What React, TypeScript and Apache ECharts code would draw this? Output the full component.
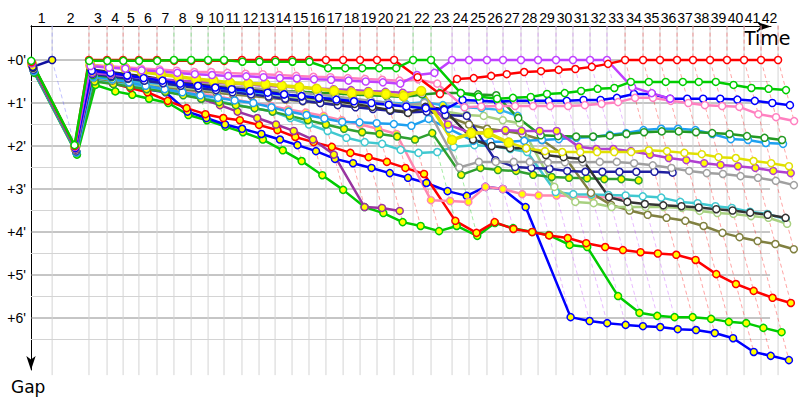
import React, { useEffect, useRef } from "react";
import * as echarts from "echarts";

// Race time (minutes) at which the leader completed each lap (index = lap, 0 = start)
const leaderTimes = [
  0, 1.87, 5.13, 6.73, 8.15, 9.55, 11.15, 12.65, 14.17, 15.67, 17.08, 18.67, 20.18, 21.6,
  23.1, 24.6, 26.1, 27.62, 29.12, 30.62, 32.13, 33.81, 35.4, 37.26, 38.76, 40.35, 41.77,
  43.36, 44.87, 46.46, 47.96, 49.47, 50.97, 52.57, 54.16, 55.66, 57.17, 58.58, 60.09,
  61.59, 63.1, 64.6, 66.11,
];

// Leader of each lap 1..42
const lapLeaders = [
  "navy0",
  "red", "red", "red", "red", "red",
  "green", "green", "green", "green",
  "red", "red", "red", "red", "red", "red", "red", "red", "red", "red",
  "green", "green",
  "violet", "violet", "violet", "violet", "violet", "violet", "violet", "violet", "violet", "violet",
  "red", "red", "red", "red", "red", "red", "red", "red", "red", "red",
];

const gapTicks = [0, 1, 2, 3, 4, 5, 6];

// Gap to the leader (minutes), index = lap
const gapRed = [0.05, 2.0, 0, 0, 0, 0, 0, 0.02, 0.02, 0.02, 0.02, 0, 0, 0, 0, 0, 0, 0, 0, 0, 0, 0.4, 0.79, 0.44, 0.42, 0.37, 0.33, 0.28, 0.26, 0.23, 0.21, 0.16, 0.09, 0, 0, 0, 0, 0, 0, 0, 0, 0, 0];
const gapGreen = [0.02, 1.98, 0.02, 0.02, 0.02, 0.02, 0.02, 0, 0, 0, 0, 0.04, 0.04, 0.04, 0.04, 0.04, 0.19, 0.19, 0.19, 0.19, 0.19, 0, 0, 0.77, 0.85, 0.9, 0.88, 0.86, 0.79, 0.77, 0.72, 0.67, 0.65, 0.51, 0.51, 0.51, 0.51, 0.51, 0.51, 0.58, 0.65, 0.67, 0.7];
const gapViolet = [0.08, 2.02, 0.14, 0.18, 0.2, 0.24, 0.26, 0.3, 0.33, 0.35, 0.37, 0.38, 0.4, 0.42, 0.43, 0.45, 0.46, 0.48, 0.5, 0.52, 0.55, 0.35, 0.3, 0, 0, 0, 0, 0, 0, 0, 0, 0, 0, 0.63, 0.77, 0.9];
const gapPinkW = [0.06, 2.0, 0.12, 0.15, 0.17, 0.2, 0.22, 0.25, 0.28, 0.28, 0.3, 0.32, 0.33, 0.35, 0.37, 0.39, 0.4, 0.42, 0.44, 0.46, 0.48, 0.45, 0.55, 1.1, 1.08, 1.07, 1.07, 1.07, 1.07, 1.07, 1.05, 1.02, 0.98, 0.88, 0.88, 0.95, 1.0, 1.05, 1.07, 1.09, 1.26, 1.33, 1.42];
const gapBlueW = [0.12, 2.05, 0.25, 0.3, 0.36, 0.42, 0.48, 0.55, 0.6, 0.64, 0.68, 0.72, 0.76, 0.8, 0.84, 0.88, 0.92, 0.96, 1.0, 1.04, 1.08, 1.12, 1.16, 0.93, 0.95, 0.97, 0.95, 0.95, 0.95, 0.95, 0.93, 0.93, 0.88, 0.79, 0.79, 0.9, 0.9, 0.9, 0.9, 0.92, 0.95, 1.0, 1.05];
const gapYellow = [0.1, 2.03, 0.12, 0.16, 0.19, 0.28, 0.33, 0.39, 0.44, 0.48, 0.53, 0.55, 0.56, 0.6, 0.63, 0.67, 0.72, 0.77, 0.77, 0.79, 0.84, 0.72, 1.86, 1.7, 1.7, 1.92, 2.05, 2.12, 2.14, 2.14, 2.14, 2.14, 2.14, 2.1, 2.12, 2.16, 2.19, 2.26, 2.28, 2.35, 2.4, 2.47];
const gapPurpleY = [0.14, 2.07, 0.3, 0.34, 0.38, 0.42, 0.45, 0.48, 0.5, 0.52, 0.55, 0.57, 0.6, 0.62, 0.64, 0.66, 0.68, 0.7, 0.72, 0.74, 0.76, 0.75, 1.5, 1.7, 1.68, 1.63, 1.65, 1.65, 1.65, 2.02, 2.07, 2.07, 2.12, 2.2, 2.28, 2.33, 2.4, 2.44, 2.47, 2.51, 2.58, 2.63];
const gapBlack = [0.18, 2.08, 0.22, 0.28, 0.33, 0.38, 0.45, 0.52, 0.57, 0.62, 0.66, 0.7, 0.74, 0.8, 0.85, 0.9, 0.96, 1.02, 1.09, 1.16, 1.23, 1.09, 1.14, 1.85, 2.0, 2.05, 2.05, 2.21, 2.26, 2.3, 3.19, 3.3, 3.35, 3.38, 3.4, 3.43, 3.47, 3.5, 3.55, 3.6, 3.67];
const gapGray = [0.2, 2.1, 0.28, 0.33, 0.37, 0.41, 0.46, 0.5, 0.54, 0.58, 0.62, 0.65, 0.68, 0.72, 0.76, 0.8, 0.85, 0.9, 0.95, 1.0, 1.05, 1.0, 2.5, 2.37, 2.37, 2.37, 2.37, 2.38, 2.38, 2.38, 2.37, 2.37, 2.4, 2.45, 2.51, 2.58, 2.63, 2.65, 2.7, 2.74, 2.81, 2.91];
const gapNavy = [0.22, 2.12, 0.32, 0.38, 0.43, 0.48, 0.54, 0.6, 0.66, 0.7, 0.75, 0.8, 0.85, 0.9, 0.95, 1.0, 1.05, 1.1, 1.14, 1.18, 1.22, 1.2, 1.28, 1.3, 2.33, 2.49, 2.51, 2.53, 2.58, 2.6, 2.6, 2.6, 2.6, 2.6, 2.62];
const gapDarkGreen = [0.16, 2.06, 0.35, 0.4, 0.44, 0.48, 0.52, 0.56, 0.6, 0.63, 0.66, 0.68, 0.7, 0.72, 0.74, 0.76, 0.78, 0.8, 0.82, 0.84, 0.86, 0.8, 0.77, 0.77, 0.8, 0.82, 1.35, 1.75, 1.77, 1.78, 1.78, 1.76, 1.72, 1.68, 1.66, 1.66, 1.68, 1.7, 1.72, 1.77, 1.81, 1.86];
const gapLightBlueW = [0.24, 2.14, 0.38, 0.45, 0.52, 0.6, 0.68, 0.75, 0.82, 0.88, 0.94, 1.0, 1.1, 1.2, 1.28, 1.36, 1.44, 1.45, 1.47, 1.49, 1.53, 1.37, 1.6, 1.88, 1.9, 1.9, 1.88, 1.86, 1.84, 1.81, 1.79, 1.74, 1.7, 1.63, 1.6, 1.6, 1.63, 1.72, 1.84, 1.86, 1.93, 1.95];
const gapLightBlueY = [0.26, 2.15, 0.4, 0.44, 0.48, 0.52, 0.56, 0.6, 0.64, 0.68, 0.72, 0.75, 0.78, 0.81, 0.84, 0.87, 0.9, 0.93, 0.96, 0.99, 1.02, 0.98, 1.05, 1.1, 1.12, 1.16, 1.3];
const gapLightGreen = [0.2, 2.1, 0.4, 0.46, 0.5, 0.55, 0.6, 0.64, 0.68, 0.72, 0.76, 0.8, 0.84, 0.87, 0.9, 0.93, 0.96, 0.99, 1.02, 1.05, 1.08, 1.05, 1.2, 1.28, 1.3, 1.4, 1.47, 2.95, 3.3, 3.33, 3.42, 3.42, 3.42, 3.42, 3.44, 3.51, 3.56, 3.58, 3.63, 3.67, 3.81];
const gapOlive = [0.22, 2.12, 0.42, 0.48, 0.53, 0.58, 0.63, 0.68, 0.72, 0.76, 0.8, 0.84, 0.88, 0.92, 0.96, 1.0, 1.04, 1.08, 1.12, 1.16, 1.2, 1.15, 1.3, 1.5, 1.6, 1.65, 1.72, 1.86, 2.2, 3.09, 3.37, 3.5, 3.6, 3.67, 3.74, 3.86, 4.02, 4.12, 4.21, 4.28, 4.4];
const gapCyan = [0.25, 2.15, 0.45, 0.52, 0.58, 0.65, 0.72, 0.8, 0.88, 0.96, 1.04, 1.12, 1.2, 1.35, 1.5, 1.65, 1.81, 1.91, 1.95, 2.09, 2.16, 2.14, 2.02, 1.98, 2.0, 2.07, 2.14, 3.07, 3.12, 3.13, 3.14, 3.15, 3.17, 3.2, 3.3, 3.33, 3.4, 3.44, 3.53, 3.58, 3.7];
const gapDarkGreenY = [0.28, 2.16, 0.5, 0.56, 0.62, 0.68, 0.74, 0.82, 0.9, 0.98, 1.05, 1.12, 1.2, 1.3, 1.4, 1.5, 1.6, 1.68, 1.72, 1.78, 1.85, 1.7, 2.67, 2.51, 2.56, 2.58, 2.67, 2.72, 2.74, 2.75, 2.77, 2.77, 2.8];
const gapPinkY = [0.18, 2.09, 0.38, 0.45, 0.5, 0.56, 0.62, 0.7, 0.78, 0.85, 0.92, 1.0, 1.07, 1.15, 1.22, 1.3, 1.4, 1.5, 1.6, 1.72, 3.26, 3.28, 3.3, 2.95, 3.0, 3.12, 3.15, 3.15, 3.17, 3.19, 3.19, 3.22];
const gapRedY = [0.2, 2.12, 0.45, 0.55, 0.65, 0.75, 0.95, 1.12, 1.26, 1.35, 1.4, 1.51, 1.63, 1.79, 1.91, 2.02, 2.16, 2.26, 2.37, 2.51, 2.65, 3.74, 4.02, 3.77, 3.93, 4.0, 4.08, 4.14, 4.26, 4.35, 4.42, 4.47, 4.5, 4.53, 4.65, 4.98, 5.21, 5.37, 5.53, 5.65];
const gapBlueY = [0.15, 2.1, 0.48, 0.55, 0.6, 0.68, 0.75, 1.2, 1.35, 1.5, 1.6, 1.72, 1.85, 1.98, 2.12, 2.3, 2.4, 2.51, 2.63, 2.74, 2.86, 3.05, 3.16, 2.95, 3.0, 3.42, 5.98, 6.07, 6.12, 6.16, 6.19, 6.21, 6.26, 6.28, 6.35, 6.47, 6.79, 6.88, 6.98];
const gapGreenY = [0.3, 2.2, 0.58, 0.73, 0.81, 0.9, 1.0, 1.28, 1.4, 1.55, 1.68, 1.85, 2.1, 2.35, 2.68, 3.02, 3.42, 3.56, 3.77, 3.86, 3.98, 3.86, 4.09, 3.79, 3.91, 4.0, 4.07, 4.3, 4.35, 5.49, 5.88, 5.95, 5.98, 5.98, 6.02, 6.09, 6.12, 6.23, 6.33];
const gapPurpleDrop = [0.17, 2.08, 0.36, 0.42, 0.48, 0.55, 0.62, 0.75, 0.9, 1.05, 1.2, 1.35, 1.5, 1.65, 1.85, 2.2, 3.42, 3.44, 3.51];
const gapNavy0 = [0.16, 0];

const YELLOW = "#ffff00";
const WHITE = "#ffffff";

// drawing order: first = bottom. from/to restrict the styled lap range.
const drivers: any[] = [
  { key: "greenY", gaps: gapGreenY, color: "#00cc00", fill: YELLOW },
  { key: "blueY", gaps: gapBlueY, color: "#0000ff", fill: YELLOW },
  { key: "redY", gaps: gapRedY, color: "#ff0000", fill: YELLOW },
  { key: "purpleDrop", gaps: gapPurpleDrop, color: "#9933a0", fill: YELLOW },
  { key: "pinkY", gaps: gapPinkY, color: "#ff88b0", fill: YELLOW },
  { key: "cyan", gaps: gapCyan, color: "#40c8d0", fill: WHITE },
  { key: "darkGreenY", gaps: gapDarkGreenY, color: "#30a030", fill: YELLOW },
  { key: "olive", gaps: gapOlive, color: "#808040", fill: WHITE },
  { key: "lightGreen", gaps: gapLightGreen, color: "#a8d080", fill: WHITE },
  { key: "lightBlueY", gaps: gapLightBlueY, color: "#30b0f0", fill: YELLOW },
  { key: "lightBlueW", gaps: gapLightBlueW, color: "#1ea0f0", fill: WHITE },
  { key: "darkGreen", gaps: gapDarkGreen, color: "#229922", fill: WHITE },
  { key: "navy", gaps: gapNavy, color: "#2020a0", fill: WHITE },
  { key: "gray", gaps: gapGray, color: "#a0a0a0", fill: WHITE },
  { key: "black", gaps: gapBlack, color: "#333333", fill: WHITE },
  { key: "purpleY", gaps: gapPurpleY, color: "#b040d0", fill: YELLOW },
  { key: "yellowLate", gaps: gapYellow, color: "#e0e000", fill: WHITE, from: 25 },
  { key: "yellow", gaps: gapYellow, color: "#e0e000", fill: YELLOW, size: 9, width: 3.5, to: 25 },
  { key: "blueW", gaps: gapBlueW, color: "#0000ff", fill: WHITE },
  { key: "pinkW", gaps: gapPinkW, color: "#ff80c0", fill: WHITE },
  { key: "navy0", gaps: gapNavy0, color: "#1010a0", fill: YELLOW },
  { key: "violet", gaps: gapViolet, color: "#c040ff", fill: WHITE },
  { key: "red", gaps: gapRed, color: "#ff0000", fill: WHITE },
  { key: "green", gaps: gapGreen, color: "#00cc00", fill: WHITE },
];

function rgba(hex: string, a: number) {
  const n = parseInt(hex.slice(1), 16);
  return `rgba(${(n >> 16) & 255},${(n >> 8) & 255},${n & 255},${a})`;
}

export default function App() {
  const ref = useRef<HTMLDivElement>(null);
  useEffect(() => {
    document.body.style.margin = "0";
    const chart = echarts.init(ref.current!, null, { renderer: "svg" });
    const T = leaderTimes;
    const X_MAX = 68.05;
    const Y_MIN = -0.8;
    const Y_MAX = 7.33;
    const GRID_X_END = 65.4;
    const lapMids = T.slice(1).map((t, i) => (T[i] + t) / 2);

    const series: any[] = [];
    const plain = (data: number[][], color: string, width: number, type: any, z: number) => ({
      type: "line",
      xAxisIndex: 0,
      yAxisIndex: 0,
      data,
      symbol: "none",
      silent: true,
      z,
      lineStyle: { color, width, type },
    });

    // horizontal grid lines
    for (let k = 0; k <= 13; k++) {
      const g = k * 0.5;
      series.push(plain([[0, g], [GRID_X_END, g]], k % 2 === 0 ? "#8c8c8c" : "#d4d4d4", 1, "solid", 1));
    }
    // vertical grid lines at leader lap times
    for (let i = 1; i < T.length; i++) {
      series.push(plain([[T[i], Y_MIN], [T[i], Y_MAX]], "#d4d4d4", 1, "solid", 1));
    }
    // lap lines (dashed), coloured by lap leader
    const colorOf: Record<string, string> = {};
    drivers.forEach((d) => (colorOf[d.key] = d.color));
    for (let i = 1; i < T.length; i++) {
      let gmax = 0;
      drivers.forEach((d) => {
        const g = d.gaps[i];
        if (g !== undefined && g !== null && g > gmax) gmax = g;
      });
      const leader = lapLeaders[i - 1];
      const c = leader === "navy0" ? "rgba(90,90,255,0.38)" : rgba(colorOf[leader], 0.36);
      series.push(plain([[T[i], Y_MIN], [T[i], 0], [T[i] + gmax, gmax]], c, 1, [4, 3], 2));
    }
    // drivers
    drivers.forEach((d: any) => {
      const from = d.from ?? 0;
      const to = d.to ?? d.gaps.length - 1;
      const data: number[][] = [];
      d.gaps.forEach((g: number, i: number) => {
        if (i >= from && i <= to) data.push([T[i] + g, g]);
      });
      series.push({
        type: "line",
        name: d.key,
        xAxisIndex: 0,
        yAxisIndex: 0,
        data,
        symbol: "circle",
        symbolSize: d.size ?? 7,
        silent: true,
        z: 5,
        lineStyle: { color: d.color, width: d.width ?? 2.5 },
        itemStyle: { color: d.fill, borderColor: d.color, borderWidth: 1.5 },
      });
    });

    const arrowLine = {
      show: true,
      lineStyle: { color: "#000", width: 1 },
      symbolSize: [7, 14],
    };

    chart.setOption({
      animation: false,
      textStyle: { fontFamily: "Liberation Sans" },
      grid: [
        { left: 31, right: 0, top: 25.6, bottom: 400 - (60 + Y_MAX * 43) },
        { left: 31, top: 25.6, width: 740, height: 1 },
        { left: 31, top: 25.6, width: 1, height: 344.4 },
      ],
      xAxis: [
        {
          type: "value",
          gridIndex: 0,
          position: "top",
          min: 0,
          max: X_MAX,
          axisLine: { show: false },
          axisTick: { show: false },
          splitLine: { show: false },
          axisLabel: {
            customValues: lapMids,
            formatter: (v: number) => {
              const i = lapMids.findIndex((m) => Math.abs(m - v) < 1e-6);
              return i >= 0 ? String(i + 1) : "";
            },
            color: "#000",
            fontSize: 14,
            fontFamily: "Liberation Sans",
            margin: 1,
          },
        },
        {
          type: "value",
          gridIndex: 1,
          position: "top",
          min: 0,
          max: 1,
          axisLine: { ...arrowLine, symbol: ["none", "arrow"] },
          axisTick: { show: false },
          axisLabel: { show: false },
          splitLine: { show: false },
        },
        {
          type: "value",
          gridIndex: 2,
          show: false,
          min: 0,
          max: 1,
        },
      ],
      yAxis: [
        {
          type: "value",
          gridIndex: 0,
          inverse: true,
          min: Y_MIN,
          max: Y_MAX,
          axisLine: { show: false },
          axisTick: { show: false },
          splitLine: { show: false },
          axisLabel: {
            customValues: gapTicks,
            formatter: (v: number) => `+${v}'`,
            color: "#000",
            fontSize: 14,
            fontFamily: "Liberation Sans",
            margin: 5,
          },
        },
        {
          type: "value",
          gridIndex: 1,
          show: false,
          min: 0,
          max: 1,
        },
        {
          type: "value",
          gridIndex: 2,
          position: "left",
          min: 0,
          max: 1,
          axisLine: { ...arrowLine, symbol: ["arrow", "none"] },
          axisTick: { show: false },
          axisLabel: { show: false },
          splitLine: { show: false },
        },
      ],
      graphic: [
        {
          type: "text",
          left: 744,
          top: 28,
          style: { text: "Time", fontSize: 19, fontFamily: "DejaVu Sans", fill: "#000" },
        },
        {
          type: "text",
          left: 11,
          top: 378,
          style: { text: "Gap", fontSize: 17, fontFamily: "DejaVu Sans", fill: "#000" },
        },
      ],
      series,
    });
    return () => chart.dispose();
  }, []);
  return <div ref={ref} style={{ width: 800, height: 400 }} />;
}
